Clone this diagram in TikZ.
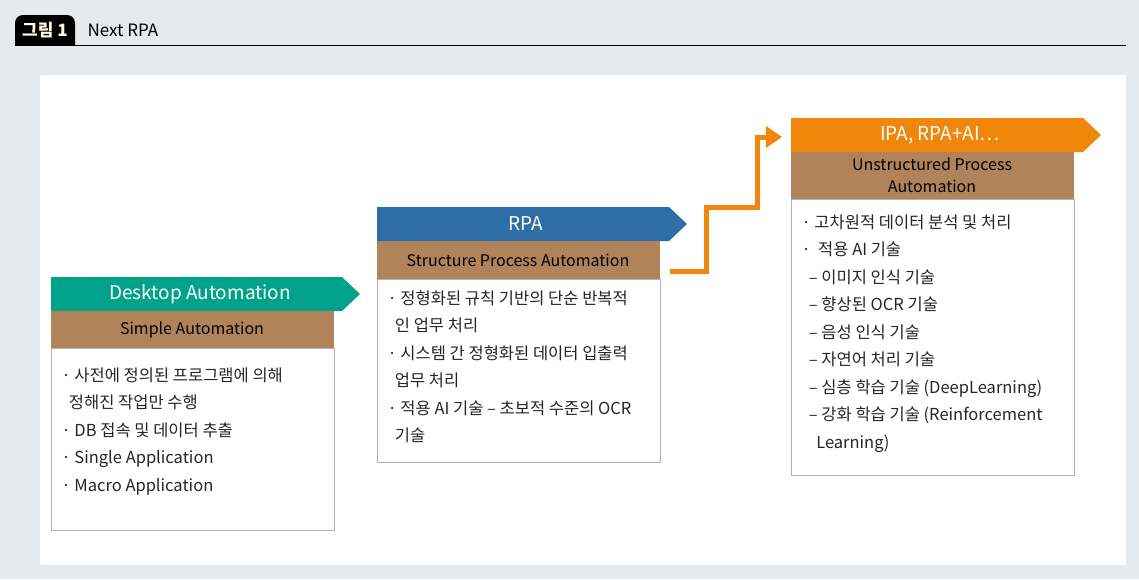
\documentclass[tikz,border=0pt]{standalone}
\usepackage{fontspec}
\setmainfont{Noto Sans CJK KR}
\begin{document}
\begin{tikzpicture}[x=1pt,y=-1pt,
  body/.style={draw=gray!60,fill=white,line width=0.6pt},
  sub/.style={fill=brown1,text=black,font=\fontsize{16}{18}\selectfont,align=center},
  ban/.style={text=white,font=\fontsize{19}{21}\selectfont},
  txt/.style={anchor=north west,align=left,font=\fontsize{16.5}{27.5}\selectfont,text=black!85}]
\definecolor{bgc}{HTML}{E6EAED}
\definecolor{brown1}{HTML}{B0835A}
\definecolor{teal1}{HTML}{00A28A}
\definecolor{blue1}{HTML}{2F6DA6}
\definecolor{orange1}{HTML}{F0860A}
\useasboundingbox (0,0) rectangle (1139,579);
\fill[bgc] (0,0) rectangle (1139,579);
\fill[white] (40,75) rectangle (1126,565);
\draw[line width=1pt] (15,45) -- (1126,45);
\fill[black,rounded corners=8pt] (15,45) -- (15,15) -- (75,15) [sharp corners] -- (75,45) -- cycle;
\node[text=white!85!yellow,font=\bfseries\fontsize{17}{19}\selectfont] (tab) at (45,30) {그림 1};
\node[anchor=west,font=\fontsize{17}{19}\selectfont] (title) at (84,30) {Next RPA};
% box 1
\fill[teal1] (51,277) -- (342,277) -- (360,294) -- (342,311) -- (51,311) -- cycle;
\node[ban] (b1) at (200,294) {Desktop Automation};
\fill[brown1] (51,311) rectangle (334,348);
\node[sub] (s1) at (192,329.5) {Simple Automation};
\draw[body] (51,348) rectangle (334,530);
\node[txt] (t1) at (58,364) {· 사전에 정의된 프로그램에 의해\\\ \ 정해진 작업만 수행\\· DB 접속 및 데이터 추출\\· Single Application\\· Macro Application};
% box 2
\fill[blue1] (377,207) -- (669,207) -- (687,224) -- (669,241) -- (377,241) -- cycle;
\node[ban] (b2) at (526,224) {RPA};
\fill[brown1] (377,241) rectangle (660,279);
\node[sub] (s2) at (518,260) {Structure Process Automation};
\draw[body] (377,279) rectangle (660,462);
\node[txt] (t2) at (384,287) {· 정형화된 규칙 기반의 단순 반복적\\\ \ 인 업무 처리\\· 시스템 간 정형화된 데이터 입출력\\\ \ 업무 처리\\· 적용 AI 기술 – 초보적 수준의 OCR\\\ \ 기술};
% box 3
\fill[orange1] (791,118) -- (1083,118) -- (1101,135) -- (1083,152) -- (791,152) -- cycle;
\node[ban] (b3) at (940,135) {IPA, RPA+AI…};
\fill[brown1] (791,152) rectangle (1074,199);
\node[sub,font=\fontsize{16}{22}\selectfont] (s3) at (932,175.5) {Unstructured Process\\Automation};
\draw[body] (791,199) rectangle (1074,475);
\node[txt] (t3) at (798,211) {· 고차원적 데이터 분석 및 처리\\·\ \ 적용 AI 기술\\\ \ – 이미지 인식 기술\\\ \ – 향상된 OCR 기술\\\ \ – 음성 인식 기술\\\ \ – 자연어 처리 기술\\\ \ – 심층 학습 기술 (DeepLearning)\\\ \ – 강화 학습 기술 (Reinforcement\\\ \ \ \ Learning)};
% connector
\coordinate (c0) at (670,271);
\coordinate (c1) at (782,137);
\draw[orange1,line width=5pt] (c0) -- (706,271) -- (706,207) -- (757,207) -- (757,137) -- (768,137);
\fill[orange1] (766,126) -- (782,137) -- (766,148) -- cycle;
\end{tikzpicture}
\end{document}
